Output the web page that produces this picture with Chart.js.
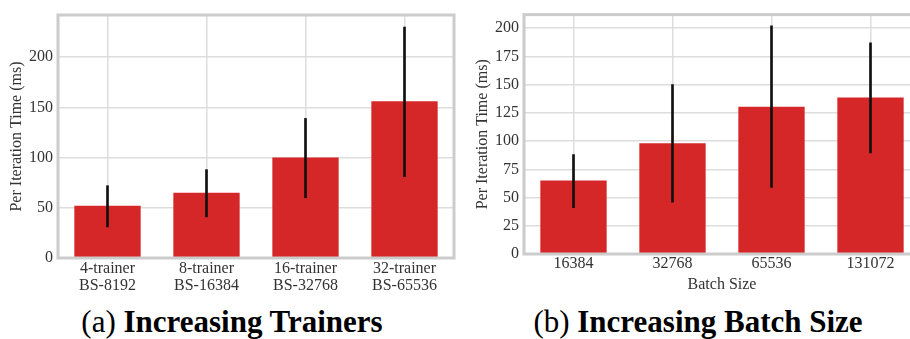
<!DOCTYPE html>
<html>
<head>
<meta charset="utf-8">
<script src="https://cdn.jsdelivr.net/npm/chart.js@4.4.1/dist/chart.umd.min.js"></script>
<style>
  html, body { margin: 0; padding: 0; background: #fff; overflow: hidden; }
  #stage { position: relative; width: 910px; height: 339px; overflow: hidden; }
  .panel { position: absolute; top: 0; }
  #wrapA { left: 0; width: 462px; height: 300px; }
  #wrapB { left: 462px; width: 470px; height: 294px; }
  .caption {
    position: absolute; top: 304px; white-space: nowrap;
    font-family: 'Liberation Serif', 'DejaVu Serif'; font-size: 31px; color: #000;
    transform: translateX(-50%);
  }
  .caption b { font-weight: bold; }
</style>
</head>
<body>
<div id="stage">
  <div class="panel" id="wrapA"><canvas id="chartA"></canvas></div>
  <div class="panel" id="wrapB"><canvas id="chartB"></canvas></div>
  <div class="caption" style="left:232px">(a) <b>Increasing Trainers</b></div>
  <div class="caption" style="left:698px">(b) <b>Increasing Batch Size</b></div>
</div>
<script>
// (a) scaling the number of trainers together with the batch size
const trainerLabels = [["4-trainer", "BS-8192"], ["8-trainer", "BS-16384"], ["16-trainer", "BS-32768"], ["32-trainer", "BS-65536"]];
const trainerMean = [52, 65, 100, 156];
const trainerLow = [31, 41, 60, 81];
const trainerHigh = [72, 88, 139, 230];
const trainerTicks = [0, 50, 100, 150, 200];

// (b) scaling the batch size alone
const batchLabels = ["16384", "32768", "65536", "131072"];
const batchMean = [65, 98, 130.5, 138.5];
const batchLow = [41, 46, 59, 89.5];
const batchHigh = [88, 150, 202, 187];
const batchTicks = [0, 25, 50, 75, 100, 125, 150, 175, 200];

const SERIF = "'Liberation Serif', 'DejaVu Serif'";
const TEXT = '#333333';
const GRID = '#dddddd';
const FRAME = '#cccccc';
const BAR = '#d62728';

// outline the whole plotting area like a boxed axes frame
const framePlugin = {
  id: 'frame',
  afterDraw(chart) {
    const a = chart.chartArea, ctx = chart.ctx;
    ctx.save();
    ctx.strokeStyle = FRAME;
    ctx.lineWidth = 3;
    ctx.strokeRect(a.left, a.top, a.right - a.left, a.bottom - a.top);
    ctx.restore();
  }
};

function build(cfg) {
  return new Chart(document.getElementById(cfg.id), {
    type: 'bar',
    data: {
      labels: cfg.labels,
      datasets: [
        {
          label: 'error',
          data: cfg.low.map((v, i) => [v, cfg.high[i]]),
          backgroundColor: '#111111',
          barThickness: 2,
          grouped: false,
          order: 0
        },
        {
          label: 'mean',
          data: cfg.mean,
          backgroundColor: BAR,
          barPercentage: 0.67,
          categoryPercentage: 1,
          grouped: false,
          order: 1
        }
      ]
    },
    options: {
      responsive: true,
      maintainAspectRatio: false,
      animation: false,
      layout: { padding: { top: cfg.padTop, right: cfg.padRight, left: 0, bottom: 0 } },
      plugins: { legend: { display: false }, tooltip: { enabled: false } },
      scales: {
        x: {
          offset: true,
          grid: { offset: false, color: GRID, lineWidth: 1.5, drawTicks: false },
          border: { display: false },
          ticks: { color: TEXT, font: { family: SERIF, size: 16, lineHeight: 1.08 }, padding: cfg.xTickPad, maxRotation: 0 },
          title: cfg.xTitle
            ? { display: true, text: cfg.xTitle, color: TEXT, font: { family: SERIF, size: 16, lineHeight: 1.1 }, padding: { top: 0, bottom: 0 } }
            : { display: false },
          afterFit(scale) { scale.height = cfg.xHeight; }
        },
        y: {
          min: 0,
          max: cfg.yMax,
          afterBuildTicks(scale) { scale.ticks = cfg.ticks.map(v => ({ value: v })); },
          grid: { color: GRID, lineWidth: 1.5, drawTicks: false },
          border: { display: false },
          ticks: { color: TEXT, font: { family: SERIF, size: 16 }, padding: 5 },
          title: { display: true, text: 'Per Iteration Time (ms)', color: TEXT, font: { family: SERIF, size: 16 }, padding: { top: cfg.yTitlePad, bottom: 0 } },
          afterFit(scale) { scale.width = cfg.yWidth; }
        }
      }
    },
    plugins: [framePlugin]
  });
}

build({
  id: 'chartA', labels: trainerLabels, mean: trainerMean, low: trainerLow, high: trainerHigh,
  ticks: trainerTicks, yMax: 242, yWidth: 58, xHeight: 42, xTickPad: 2, xTitle: null,
  yTitlePad: 7, padTop: 15, padRight: 8
});
build({
  id: 'chartB', labels: batchLabels, mean: batchMean, low: batchLow, high: batchHigh,
  ticks: batchTicks, yMax: 212, yWidth: 62, xHeight: 40, xTickPad: 1, xTitle: 'Batch Size',
  yTitlePad: 11, padTop: 12, padRight: 12
});
</script>
</body>
</html>
